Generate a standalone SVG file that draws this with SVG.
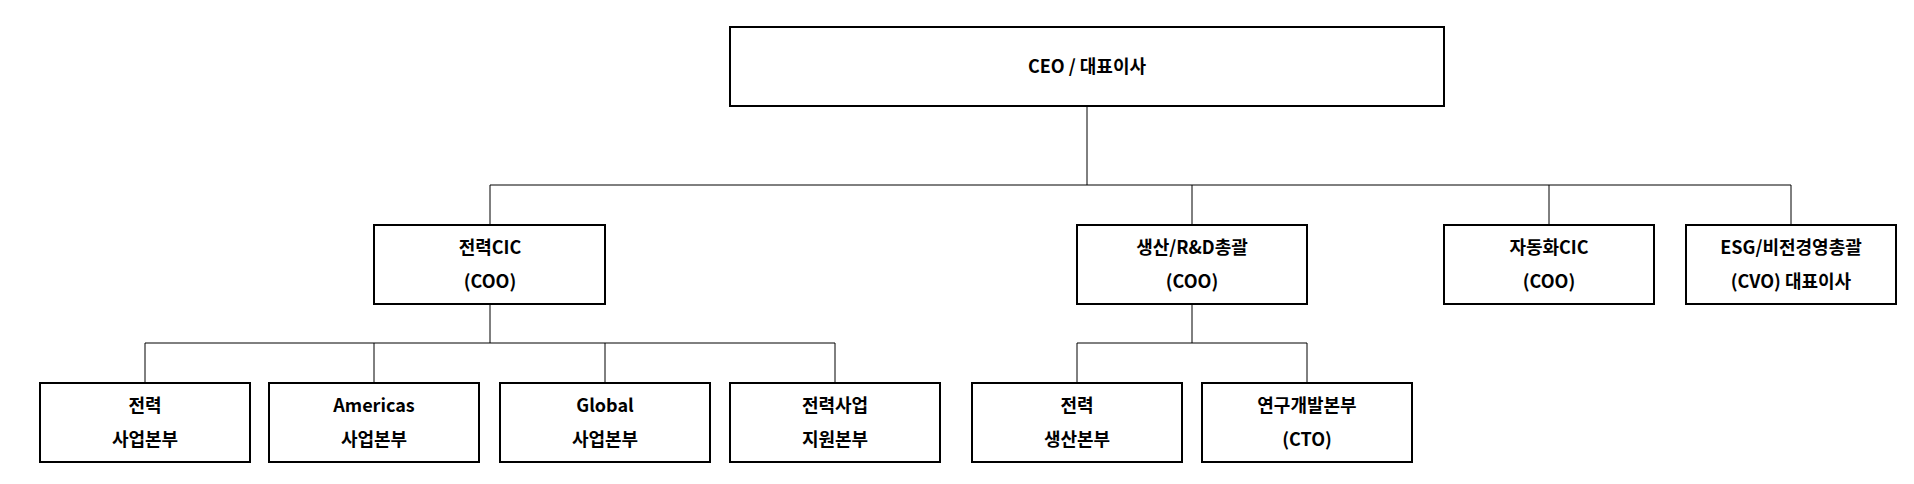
<svg xmlns="http://www.w3.org/2000/svg" width="1914" height="484" viewBox="0 0 1914 484">
<style>
.b{fill:#fff;stroke:#000;stroke-width:2}
.t{font-family:"Noto Sans CJK KR","Liberation Sans",sans-serif;font-weight:bold;font-size:18px;text-anchor:middle;fill:#000}
.c{stroke:#000;stroke-width:1;fill:none}
</style>
<rect width="1914" height="484" fill="#fff"/>
<g id="connectors">
<path class="c" d="M1087 106V185M490 185H1791M490 185V225M1192 185V225M1549 185V225M1791 185V225"/>
<path class="c" d="M490 304V343M145 343H835M145 343V383M374 343V383M605 343V383M835 343V383"/>
<path class="c" d="M1192 304V343M1077 343H1307M1077 343V383M1307 343V383"/>
</g>
<g id="ceo"><rect class="b" x="730" y="27" width="714" height="79"/><text class="t" x="1087" y="73">CEO / 대표이사</text></g>
<g id="n1"><rect class="b" x="374" y="225" width="231" height="79"/><text class="t" x="490" y="254">전력CIC</text><text class="t" x="490" y="288">(COO)</text></g>
<g id="n2"><rect class="b" x="1077" y="225" width="230" height="79"/><text class="t" x="1192" y="254">생산/R&amp;D총괄</text><text class="t" x="1192" y="288">(COO)</text></g>
<g id="n3"><rect class="b" x="1444" y="225" width="210" height="79"/><text class="t" x="1549" y="254">자동화CIC</text><text class="t" x="1549" y="288">(COO)</text></g>
<g id="n4"><rect class="b" x="1686" y="225" width="210" height="79"/><text class="t" x="1791" y="254">ESG/비전경영총괄</text><text class="t" x="1791" y="288">(CVO) 대표이사</text></g>
<g id="n5"><rect class="b" x="40" y="383" width="210" height="79"/><text class="t" x="145" y="412">전력</text><text class="t" x="145" y="446">사업본부</text></g>
<g id="n6"><rect class="b" x="269" y="383" width="210" height="79"/><text class="t" x="374" y="412">Americas</text><text class="t" x="374" y="446">사업본부</text></g>
<g id="n7"><rect class="b" x="500" y="383" width="210" height="79"/><text class="t" x="605" y="412">Global</text><text class="t" x="605" y="446">사업본부</text></g>
<g id="n8"><rect class="b" x="730" y="383" width="210" height="79"/><text class="t" x="835" y="412">전력사업</text><text class="t" x="835" y="446">지원본부</text></g>
<g id="n9"><rect class="b" x="972" y="383" width="210" height="79"/><text class="t" x="1077" y="412">전력</text><text class="t" x="1077" y="446">생산본부</text></g>
<g id="n10"><rect class="b" x="1202" y="383" width="210" height="79"/><text class="t" x="1307" y="412">연구개발본부</text><text class="t" x="1307" y="446">(CTO)</text></g>
</svg>
